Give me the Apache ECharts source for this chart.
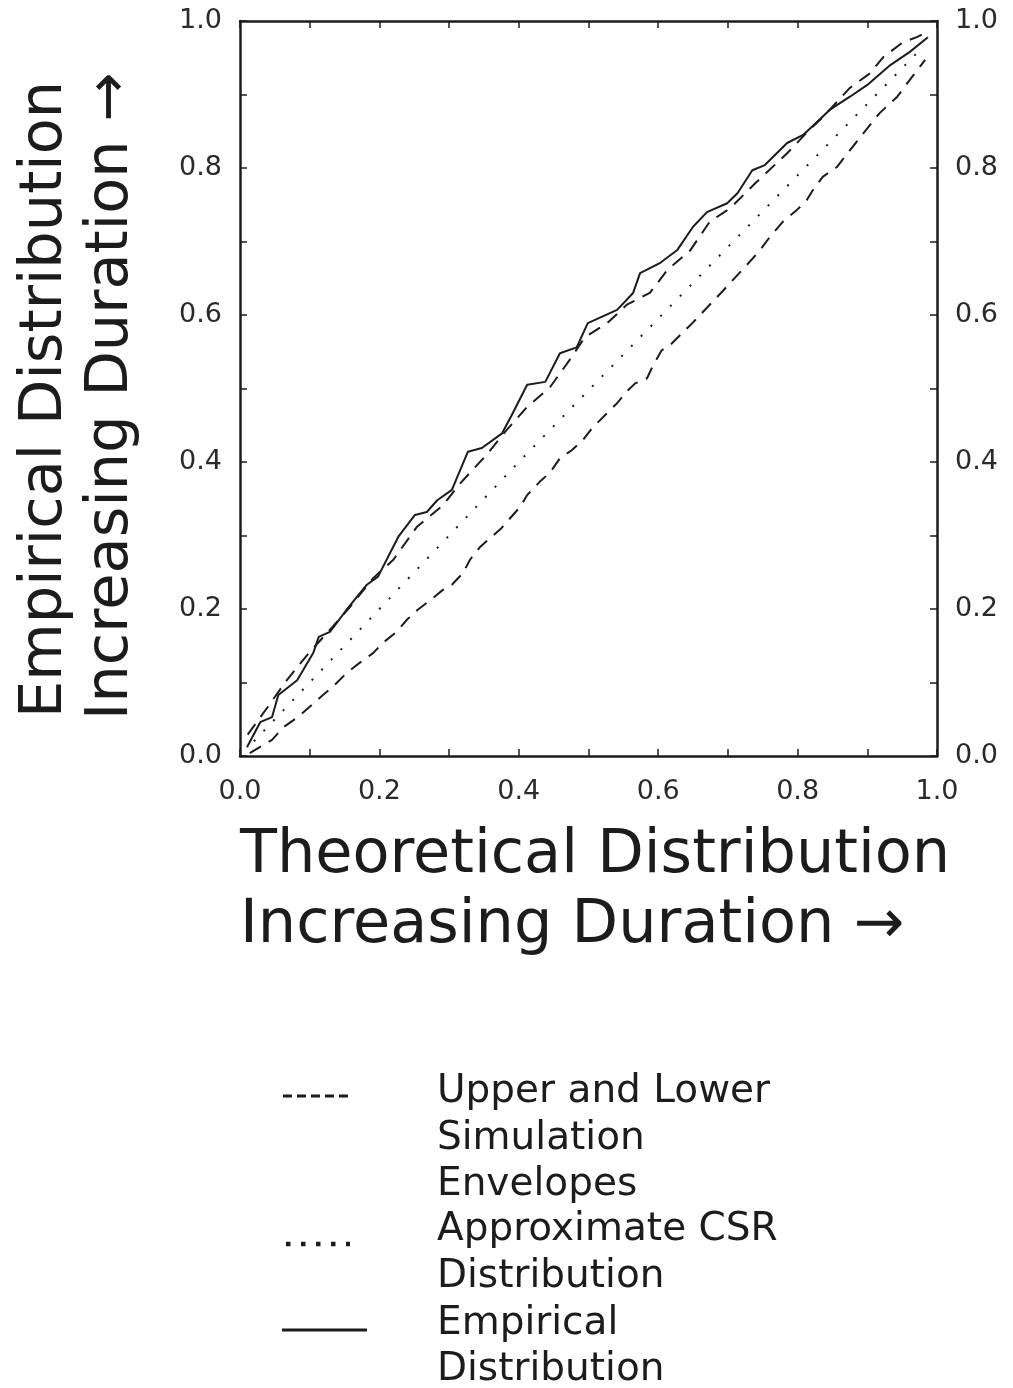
<!DOCTYPE html>
<html>
<head>
<meta charset="utf-8">
<script src="https://cdn.jsdelivr.net/npm/echarts@6/dist/echarts.min.js"></script>
<style>
html,body{margin:0;padding:0;background:#fff;}
#c{width:1013px;height:1388px;}
</style>
</head>
<body>
<div id="c"></div>
<script>
// ---- data ----
const empX = [0.01,0.029,0.046,0.055,0.082,0.105,0.113,0.129,0.153,0.182,0.198,0.227,0.251,0.268,0.283,0.304,0.327,0.347,0.376,0.39,0.412,0.438,0.459,0.483,0.499,0.541,0.564,0.574,0.603,0.627,0.65,0.67,0.699,0.714,0.735,0.753,0.785,0.808,0.846,0.875,0.9,0.933,0.961,0.987];
const empY = [0.012,0.046,0.053,0.083,0.103,0.14,0.162,0.169,0.199,0.233,0.244,0.298,0.328,0.332,0.348,0.362,0.414,0.419,0.439,0.464,0.505,0.509,0.548,0.556,0.589,0.607,0.63,0.657,0.671,0.688,0.72,0.74,0.752,0.766,0.797,0.804,0.834,0.845,0.879,0.897,0.913,0.94,0.958,0.978];

const upX = [0.011,0.04,0.067,0.096,0.133,0.158,0.191,0.22,0.254,0.291,0.316,0.354,0.383,0.412,0.445,0.473,0.495,0.527,0.555,0.588,0.613,0.646,0.674,0.703,0.74,0.785,0.813,0.836,0.875,0.904,0.923,0.951,0.971,0.986];
const upY = [0.029,0.067,0.103,0.137,0.176,0.203,0.242,0.267,0.312,0.341,0.371,0.41,0.444,0.475,0.502,0.539,0.57,0.589,0.614,0.63,0.661,0.688,0.727,0.745,0.78,0.82,0.848,0.869,0.909,0.929,0.951,0.971,0.978,0.985];

const lowX = [0.014,0.046,0.062,0.083,0.1,0.119,0.133,0.153,0.172,0.191,0.205,0.225,0.239,0.255,0.273,0.291,0.304,0.32,0.33,0.344,0.375,0.402,0.412,0.43,0.445,0.459,0.476,0.492,0.505,0.524,0.541,0.557,0.567,0.584,0.593,0.605,0.617,0.65,0.69,0.727,0.746,0.76,0.779,0.799,0.813,0.822,0.836,0.856,0.875,0.9,0.918,0.943,0.961,0.983];
const lowY = [0.004,0.022,0.039,0.053,0.067,0.083,0.094,0.113,0.127,0.14,0.154,0.169,0.185,0.199,0.212,0.226,0.233,0.249,0.267,0.284,0.31,0.339,0.355,0.373,0.386,0.405,0.416,0.43,0.446,0.464,0.48,0.498,0.507,0.514,0.532,0.552,0.559,0.59,0.63,0.668,0.688,0.706,0.727,0.743,0.756,0.77,0.788,0.801,0.824,0.854,0.875,0.897,0.92,0.947];

const csrX = [0.02,0.2,0.4,0.6,0.8,0.98];
const csrY = [0.02,0.2,0.4,0.595,0.79,0.965];

const xTitle = ['Theoretical Distribution', 'Increasing Duration \u2192'];
const yTitle = ['Empirical Distribution', 'Increasing Duration \u2192'];
const legendLines = ['Upper and Lower','Simulation','Envelopes','Approximate CSR','Distribution','Empirical','Distribution'];

// ---- chart ----
const FONT = '"DejaVu Sans", sans-serif';
const INK = '#1c1c1c';
const zip = (xs, ys) => xs.map((x, i) => [x, ys[i]]);
const fmt = v => (Math.round(v * 10) % 2 === 0) ? v.toFixed(1) : '';

function axis(pos, showLabel, isX) {
  return {
    type: 'value', position: pos, min: 0, max: 1, interval: 0.1,
    axisLine: { show: true, onZero: false, lineStyle: { color: INK, width: 2.5 } },
    axisTick: { show: true, inside: true, length: 7, lineStyle: { color: INK, width: 1.5 } },
    axisLabel: { show: showLabel, formatter: fmt, fontFamily: FONT, fontSize: 27, color: '#2a2a2a', margin: isX ? 22 : 18 },
    splitLine: { show: false }
  };
}

const chart = echarts.init(document.getElementById('c'), null, { renderer: 'canvas' });
const legendFont = '39px ' + FONT;
const graphics = [];
// x title
graphics.push({ type: 'text', left: 240, top: 826, style: { text: xTitle[0], font: '60.5px ' + FONT, fill: INK } });
graphics.push({ type: 'text', left: 240, top: 896, style: { text: xTitle[1], font: '60.5px ' + FONT, fill: INK } });
// y title (rotated)
graphics.push({ type: 'text', x: 46, y: 718, rotation: Math.PI / 2, style: { text: yTitle[0], font: '59px ' + FONT, fill: INK, align: 'left', verticalAlign: 'middle' } });
graphics.push({ type: 'text', x: 112, y: 720, rotation: Math.PI / 2, style: { text: yTitle[1], font: '59px ' + FONT, fill: INK, align: 'left', verticalAlign: 'middle' } });
// legend text
const legY = [1090, 1137, 1183, 1228, 1275, 1322, 1368];
legendLines.forEach((t, i) => {
  graphics.push({ type: 'text', x: 437, y: legY[i] + 2, style: { text: t, font: legendFont, fill: INK, align: 'left', verticalAlign: 'middle' } });
});
// legend symbols
graphics.push({ type: 'line', shape: { x1: 283, y1: 1096, x2: 352, y2: 1096 }, style: { stroke: INK, lineWidth: 3, lineDash: [9, 5] } });
graphics.push({ type: 'line', shape: { x1: 286, y1: 1244, x2: 350, y2: 1244 }, style: { stroke: INK, lineWidth: 4.5, lineDash: [4.5, 10.5] } });
graphics.push({ type: 'line', shape: { x1: 282, y1: 1330, x2: 367, y2: 1330 }, style: { stroke: INK, lineWidth: 3 } });

chart.setOption({
  backgroundColor: '#fff',
  animation: false,
  grid: { left: 240, top: 21, width: 697, height: 735 },
  xAxis: [axis('bottom', true, true), axis('top', false, true)],
  yAxis: [axis('left', true, false), axis('right', true, false)],
  series: [
    { name: 'Empirical', type: 'line', data: zip(empX, empY), showSymbol: false, lineStyle: { color: INK, width: 2 } },
    { name: 'Upper', type: 'line', data: zip(upX, upY), showSymbol: false, lineStyle: { color: INK, width: 2, type: [13, 9] } },
    { name: 'Lower', type: 'line', data: zip(lowX, lowY), showSymbol: false, lineStyle: { color: INK, width: 2, type: [13, 9] } },
    { name: 'CSR', type: 'line', data: zip(csrX, csrY), showSymbol: false, lineStyle: { color: INK, width: 2, type: [2, 12] } }
  ],
  graphic: graphics
});
</script>
</body>
</html>
